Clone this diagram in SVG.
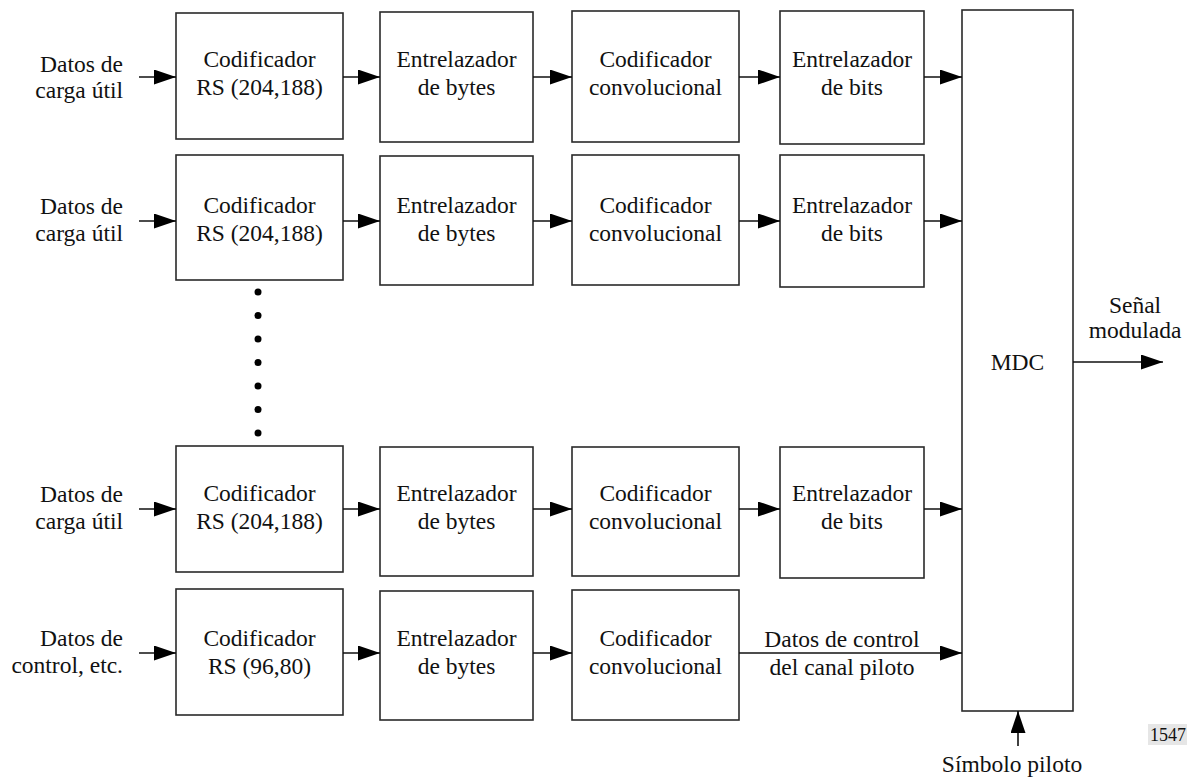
<svg xmlns="http://www.w3.org/2000/svg" width="1187" height="778" viewBox="0 0 1187 778">
  <style>
    .box { fill: #ffffff; stroke: #2a2a2a; stroke-width: 1.6; }
    text { font-family: 'Liberation Serif', Tinos, 'Times New Roman', Times, 'Nimbus Roman', 'DejaVu Serif', serif; fill: #111; }
    .t { font-size: 23.5px; text-anchor: middle; }
    .lbl { font-size: 23.5px; text-anchor: end; }
    .wire { stroke: #111; stroke-width: 1.6; fill: none; marker-end: url(#arrow); }
    .num { font-size: 18px; }
  </style>
  <defs>
    <marker id="arrow" markerUnits="userSpaceOnUse" markerWidth="23" markerHeight="16" refX="22" refY="7.5" orient="auto">
      <path d="M0,0 L22,7.5 L0,15 Z" fill="#000"/>
    </marker>
  </defs>

  <rect width="1187" height="778" fill="#ffffff"/>

  <!-- input labels -->
  <g id="in1"><text class="lbl" x="123" y="72">Datos de</text><text class="lbl" x="123" y="98">carga útil</text></g>
  <g id="in2"><text class="lbl" x="123" y="214">Datos de</text><text class="lbl" x="123" y="241">carga útil</text></g>
  <g id="in3"><text class="lbl" x="123" y="502">Datos de</text><text class="lbl" x="123" y="529">carga útil</text></g>
  <g id="in4"><text class="lbl" x="123" y="646">Datos de</text><text class="lbl" x="123" y="673">control, etc.</text></g>

  <!-- row 1 -->
  <g id="rs1"><rect class="box" x="176" y="13" width="167" height="126"/><text class="t" x="259.5" y="67">Codificador</text><text class="t" x="259.5" y="95">RS (204,188)</text></g>
  <g id="ib1"><rect class="box" x="380" y="12" width="153" height="130"/><text class="t" x="456.5" y="67">Entrelazador</text><text class="t" x="456.5" y="95">de bytes</text></g>
  <g id="cc1"><rect class="box" x="572" y="11" width="167" height="131"/><text class="t" x="655.5" y="67">Codificador</text><text class="t" x="655.5" y="95">convolucional</text></g>
  <g id="bi1"><rect class="box" x="780" y="11" width="144" height="133"/><text class="t" x="852" y="67">Entrelazador</text><text class="t" x="852" y="95">de bits</text></g>

  <!-- row 2 -->
  <g id="rs2"><rect class="box" x="176" y="155" width="167" height="125"/><text class="t" x="259.5" y="213">Codificador</text><text class="t" x="259.5" y="241">RS (204,188)</text></g>
  <g id="ib2"><rect class="box" x="380" y="156" width="153" height="129"/><text class="t" x="456.5" y="213">Entrelazador</text><text class="t" x="456.5" y="241">de bytes</text></g>
  <g id="cc2"><rect class="box" x="572" y="155" width="167" height="130"/><text class="t" x="655.5" y="213">Codificador</text><text class="t" x="655.5" y="241">convolucional</text></g>
  <g id="bi2"><rect class="box" x="780" y="155" width="144" height="132"/><text class="t" x="852" y="213">Entrelazador</text><text class="t" x="852" y="241">de bits</text></g>

  <!-- ellipsis between row 2 and row 3 -->
  <g id="dots" fill="#000">
    <circle cx="258" cy="292" r="3.5"/>
    <circle cx="258" cy="315.5" r="3.5"/>
    <circle cx="258" cy="339" r="3.5"/>
    <circle cx="258" cy="362.5" r="3.5"/>
    <circle cx="258" cy="386" r="3.5"/>
    <circle cx="258" cy="409.5" r="3.5"/>
    <circle cx="258" cy="433" r="3.5"/>
  </g>

  <!-- row 3 -->
  <g id="rs3"><rect class="box" x="176" y="446" width="167" height="126"/><text class="t" x="259.5" y="501">Codificador</text><text class="t" x="259.5" y="529">RS (204,188)</text></g>
  <g id="ib3"><rect class="box" x="380" y="447" width="153" height="129"/><text class="t" x="456.5" y="501">Entrelazador</text><text class="t" x="456.5" y="529">de bytes</text></g>
  <g id="cc3"><rect class="box" x="572" y="447" width="167" height="129"/><text class="t" x="655.5" y="501">Codificador</text><text class="t" x="655.5" y="529">convolucional</text></g>
  <g id="bi3"><rect class="box" x="780" y="447" width="144" height="131"/><text class="t" x="852" y="501">Entrelazador</text><text class="t" x="852" y="529">de bits</text></g>

  <!-- row 4 -->
  <g id="rs4"><rect class="box" x="176" y="589" width="167" height="126"/><text class="t" x="259.5" y="646">Codificador</text><text class="t" x="259.5" y="674">RS (96,80)</text></g>
  <g id="ib4"><rect class="box" x="380" y="591" width="153" height="129"/><text class="t" x="456.5" y="646">Entrelazador</text><text class="t" x="456.5" y="674">de bytes</text></g>
  <g id="cc4"><rect class="box" x="572" y="590" width="167" height="130"/><text class="t" x="655.5" y="646">Codificador</text><text class="t" x="655.5" y="674">convolucional</text></g>

  <!-- multiplexer -->
  <g id="mdc"><rect class="box" x="962" y="10" width="111" height="701"/><text class="t" x="1017.5" y="370">MDC</text></g>

  <!-- connectors -->
  <g id="connectors">
    <line class="wire" x1="139" y1="77" x2="176" y2="77"/>
    <line class="wire" x1="343" y1="77" x2="380" y2="77"/>
    <line class="wire" x1="533" y1="77" x2="572" y2="77"/>
    <line class="wire" x1="739" y1="77" x2="780" y2="77"/>
    <line class="wire" x1="924" y1="77" x2="962" y2="77"/>

    <line class="wire" x1="139" y1="221" x2="176" y2="221"/>
    <line class="wire" x1="343" y1="221" x2="380" y2="221"/>
    <line class="wire" x1="533" y1="221" x2="572" y2="221"/>
    <line class="wire" x1="739" y1="221" x2="780" y2="221"/>
    <line class="wire" x1="924" y1="221" x2="962" y2="221"/>

    <line class="wire" x1="139" y1="509" x2="176" y2="509"/>
    <line class="wire" x1="343" y1="509" x2="380" y2="509"/>
    <line class="wire" x1="533" y1="509" x2="572" y2="509"/>
    <line class="wire" x1="739" y1="509" x2="780" y2="509"/>
    <line class="wire" x1="924" y1="509" x2="962" y2="509"/>

    <line class="wire" x1="139" y1="653" x2="176" y2="653"/>
    <line class="wire" x1="343" y1="653" x2="380" y2="653"/>
    <line class="wire" x1="533" y1="653" x2="572" y2="653"/>
    <line class="wire" x1="739" y1="653" x2="962" y2="653"/>

    <line class="wire" x1="1073" y1="362" x2="1163" y2="362"/>
    <line class="wire" x1="1018" y1="746" x2="1018" y2="711"/>
  </g>

  <!-- connector labels -->
  <text class="t" x="842" y="647">Datos de control</text>
  <text class="t" x="842" y="675">del canal piloto</text>
  <text class="t" x="1135" y="313">Señal</text>
  <text class="t" x="1135" y="338">modulada</text>
  <text class="t" x="1012" y="772">Símbolo piloto</text>

  <!-- figure number -->
  <rect x="1148" y="724" width="39" height="21" fill="#e6e6e6"/>
  <text class="num" x="1150" y="741">1547</text>
</svg>
